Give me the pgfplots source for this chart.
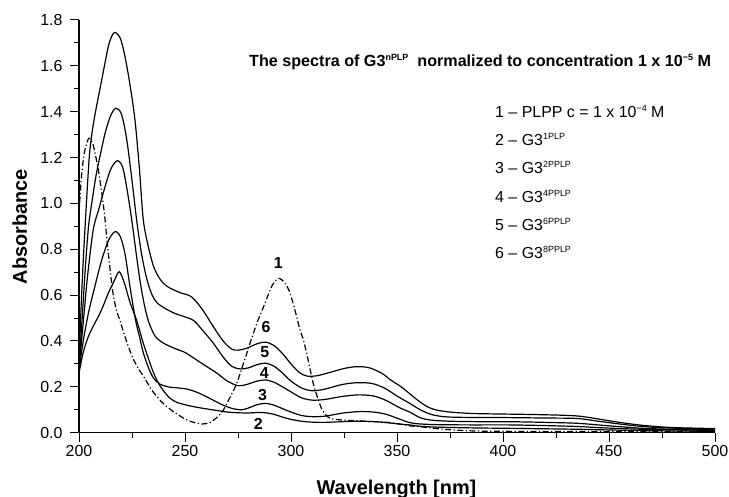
\documentclass[border=0pt]{standalone}
\usepackage{fontspec}
\setmainfont{Liberation Sans}
\usepackage{pgfplots}
\pgfplotsset{compat=1.18}
\newcommand\sups[1]{\raisebox{0.72ex}{\fontsize{9}{9}\selectfont #1}}
\pgfplotsset{curve/.style={line width=1.2bp, black, no markers, solid, smooth, tension=0.5}}
\begin{document}
\begin{tikzpicture}
\begin{axis}[
  at={(0,0)}, anchor=south west,
  scale only axis, width=636bp, height=412.7bp,
  xmin=200, xmax=500, ymin=0, ymax=1.8,
  axis lines=left, axis line style={line width=1.1bp, -},
  xtick={200,250,300,350,400,450,500},
  minor xtick={225,275,325,375,425,475},
  ytick={0,0.2,0.4,0.6,0.8,1.0,1.2,1.4,1.6,1.8},
  minor ytick={0.1,0.3,0.5,0.7,0.9,1.1,1.3,1.5,1.7},
  tick align=outside, major tick length=9bp, minor tick length=5bp,
  every tick/.style={line width=1bp, black},
  yticklabel style={/pgf/number format/fixed, /pgf/number format/fixed zerofill, /pgf/number format/precision=1, xshift=-4bp},
  /pgf/number format/assume math mode=true,
  ticklabel style={font=\fontsize{16}{19}\selectfont},
  clip=false,
]
% curve 6
\addplot[curve] coordinates {(200,0.30)(201,0.55)(202,0.75)(203,0.92)(204,1.08)(205,1.22)(206.5,1.33)(208,1.41)(210.7,1.538)(213.8,1.683)(215.5,1.73)(217,1.746)(219.5,1.72)(221.7,1.64)(224,1.52)(226.4,1.364)(228.5,1.15)(230.3,0.93)(232.5,0.82)(235,0.73)(237.5,0.68)(240,0.65)(243,0.63)(248,0.61)(253,0.593)(258,0.54)(263.4,0.462)(268,0.40)(272,0.365)(275,0.36)(279,0.368)(284,0.388)(288,0.395)(292,0.38)(296,0.345)(300,0.30)(304,0.262)(307.5,0.247)(312,0.248)(318,0.262)(325,0.28)(331,0.288)(337,0.283)(343,0.258)(347,0.23)(352,0.20)(356,0.17)(360,0.14)(364,0.115)(368,0.10)(375,0.09)(385,0.084)(395,0.082)(410,0.08)(425,0.077)(435,0.073)(443,0.063)(450,0.052)(458,0.041)(466,0.032)(475,0.025)(485,0.021)(500,0.018)};
% curve 5
\addplot[curve] coordinates {(200,0.29)(201.5,0.5)(203,0.72)(204.5,0.90)(206,1.0)(208,1.12)(210,1.21)(212.3,1.306)(214.8,1.38)(217.3,1.415)(220,1.39)(222.5,1.28)(225,1.10)(227.2,0.927)(229.5,0.78)(232,0.67)(234.5,0.60)(237,0.565)(241,0.54)(245.3,0.52)(250,0.505)(254,0.49)(258,0.45)(263.4,0.39)(268,0.33)(272,0.29)(276,0.278)(280,0.283)(284,0.297)(288,0.303)(292,0.29)(296,0.26)(300,0.225)(305,0.195)(310,0.183)(316,0.19)(324,0.21)(331,0.218)(338,0.215)(344,0.195)(350,0.16)(356,0.128)(361,0.10)(366,0.08)(372,0.07)(380,0.067)(400,0.066)(420,0.064)(435,0.062)(445,0.05)(455,0.038)(466,0.027)(480,0.02)(500,0.016)};
% curve 4
\addplot[curve] coordinates {(200,0.28)(202,0.48)(204,0.68)(206.7,0.884)(209.5,0.98)(212.3,1.073)(215,1.15)(218,1.186)(220.5,1.16)(222.5,1.07)(224.9,0.927)(227,0.78)(229,0.65)(231,0.55)(233,0.48)(236,0.42)(240,0.39)(245,0.368)(250,0.35)(255,0.32)(260,0.29)(265,0.26)(270,0.225)(275,0.205)(279,0.21)(284,0.225)(288,0.23)(292,0.22)(296,0.20)(300,0.178)(305,0.152)(310,0.142)(316,0.145)(324,0.158)(332,0.165)(339,0.16)(345,0.14)(351,0.11)(356,0.09)(361,0.065)(366,0.055)(375,0.05)(390,0.048)(403,0.048)(420,0.045)(435,0.041)(450,0.03)(466,0.019)(480,0.015)(500,0.012)};
% curve 3
\addplot[curve] coordinates {(200,0.27)(202,0.40)(204.4,0.52)(207,0.62)(210.7,0.753)(214,0.84)(217,0.877)(219.5,0.855)(221.7,0.78)(224,0.64)(226.7,0.49)(228.5,0.42)(230.3,0.35)(232.5,0.29)(235,0.24)(238,0.213)(242,0.20)(247,0.195)(251,0.19)(256,0.175)(262,0.148)(268,0.12)(273,0.104)(277,0.10)(280,0.108)(284,0.122)(288,0.128)(292,0.12)(296,0.105)(300,0.09)(305,0.075)(310,0.07)(316,0.072)(324,0.085)(332,0.092)(339,0.09)(345,0.08)(351,0.06)(356,0.044)(361,0.038)(370,0.035)(385,0.034)(403,0.034)(420,0.031)(435,0.027)(450,0.02)(466,0.015)(500,0.01)};
% curve 2
\addplot[curve] coordinates {(200,0.26)(202,0.35)(204.4,0.419)(207,0.47)(209.1,0.506)(211.5,0.555)(213.8,0.608)(216.5,0.66)(219,0.702)(221.5,0.65)(224,0.57)(227.2,0.49)(230,0.40)(232.5,0.33)(235,0.265)(237.5,0.215)(240.5,0.175)(243,0.15)(246,0.133)(250,0.122)(255,0.112)(260,0.104)(265,0.097)(270,0.09)(275,0.087)(280,0.086)(284,0.088)(288,0.087)(292,0.08)(296,0.068)(300,0.058)(305,0.05)(310,0.046)(316,0.045)(324,0.048)(332,0.05)(340,0.048)(346,0.043)(352,0.037)(356,0.034)(361,0.028)(370,0.024)(385,0.021)(403,0.019)(420,0.017)(435,0.015)(450,0.012)(466,0.009)(500,0.006)};
% curve 1 (PLPP)
\addplot[curve, dash pattern=on 6bp off 2.5bp on 1.2bp off 2.5bp] coordinates {(200,0.95)(201,1.10)(202.5,1.22)(204.6,1.284)(206.5,1.26)(208,1.20)(209.4,1.131)(211.8,0.971)(213.3,0.83)(215.7,0.63)(217.5,0.54)(219.3,0.49)(222,0.41)(225.2,0.33)(228,0.28)(231.1,0.236)(234,0.19)(237,0.155)(240,0.125)(244.5,0.092)(250,0.06)(254,0.045)(258,0.038)(262,0.045)(266,0.075)(268.1,0.099)(271,0.15)(274.4,0.215)(277.5,0.30)(280.7,0.39)(284,0.48)(287.7,0.564)(291,0.64)(294,0.673)(297,0.655)(299.5,0.61)(302,0.53)(304.2,0.45)(306,0.40)(308,0.32)(310.5,0.215)(313,0.14)(315,0.095)(318.4,0.063)(325,0.055)(335,0.05)(346.7,0.044)(356,0.03)(361,0.026)(372,0.015)(385,0.008)(400,0.006)(450,0.005)(500,0.005)};
% curve labels
\begin{scope}[every node/.style={font=\fontsize{16}{19}\selectfont\bfseries, inner sep=0pt}]
\node at (axis cs:294,0.739) {1};
\node at (axis cs:288.2,0.46) {6};
\node at (axis cs:287.7,0.353) {5};
\node at (axis cs:287.4,0.259) {4};
\node at (axis cs:286.6,0.166) {3};
\node at (axis cs:284.6,0.040) {2};
\end{scope}
\end{axis}
\node[anchor=base west, inner sep=0pt, font=\fontsize{16.2}{19}\selectfont\bfseries] at (170bp,366bp)
  {The spectra of G3\sups{nPLP}\ \ normalized to concentration 1 x 10\sups{−5} M};
\begin{scope}[every node/.style={anchor=base west, inner sep=0pt, font=\fontsize{16}{19}\selectfont}]
\node at (416bp,315.4bp) {1 – PLPP c = 1 x 10\sups{−4} M};
\node at (416bp,287bp) {2 – G3\sups{1PLP}};
\node at (416bp,258.7bp) {3 – G3\sups{2PPLP}};
\node at (416bp,230.4bp) {4 – G3\sups{4PPLP}};
\node at (416bp,202bp) {5 – G3\sups{6PPLP}};
\node at (416bp,173.7bp) {6 – G3\sups{8PPLP}};
\end{scope}
\node[anchor=base, inner sep=0pt, font=\fontsize{20}{24}\selectfont\bfseries] at (317.5bp,-61.3bp) {Wavelength [nm]};
\node[anchor=base, rotate=90, inner sep=0pt, font=\fontsize{20}{24}\selectfont\bfseries] at (-52bp,206bp) {Absorbance};
\pgfresetboundingbox
\path[use as bounding box] (-79bp,-64.3bp) rectangle (650bp,432.7bp);
\end{tikzpicture}
\end{document}
